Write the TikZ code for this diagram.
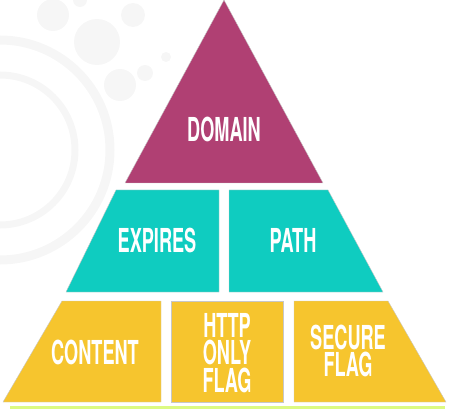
\documentclass[tikz,border=0pt]{standalone}
\usepackage{fontspec}
\newfontfamily\tierfont{TeX Gyre Heros}
\definecolor{domainpink}{HTML}{B04073}
\definecolor{midteal}{HTML}{0FCCC0}
\definecolor{baseyellow}{HTML}{F6C52E}
\definecolor{limebar}{HTML}{DCFA82}
\definecolor{markgray}{HTML}{F6F6F6}
\begin{document}
\begin{tikzpicture}[x=1pt,y=-1pt,
  tier/.style={draw=black!22,line width=.4pt},
  tierlabel/.style={text=white,inner sep=0pt,align=center,xscale=.55,
    font=\tierfont\bfseries\fontsize{33}{27.5}\selectfont}]
\useasboundingbox (0,0) rectangle (450,409);
% faint watermark in the corner
\draw[markgray,line width=9pt] (0,150) circle (110);
\draw[markgray,line width=7pt] (0,150) circle (75);
\fill[markgray] (53,15) circle (16);
\fill[markgray] (97,42) circle (23);
\fill[markgray] (133,15) circle (12);
\fill[markgray] (120,85) circle (16);
\fill[markgray] (145,73) circle (8);
\fill[markgray] (166,57) circle (5);
\fill[markgray] (80,0) circle (7);
% top
\path[tier,fill=domainpink] (224,0) -- (323,183) -- (125,183) -- cycle;
\node[tierlabel] (domain) at (224,129) {DOMAIN};
% middle
\path[tier,fill=midteal] (116,190) -- (219,190) -- (219,292) -- (66,292) -- cycle;
\path[tier,fill=midteal] (229,190) -- (328,190) -- (383,292) -- (229,292) -- cycle;
\node[tierlabel] (expires) at (157,240) {EXPIRES};
\node[tierlabel] (path) at (293,240) {PATH};
% bottom
\path[tier,fill=baseyellow] (62,301) -- (161,301) -- (161,402) -- (3,402) -- cycle;
\path[tier,fill=baseyellow] (171,301) -- (283,301) -- (283,402) -- (171,402) -- cycle;
\path[tier,fill=baseyellow] (294,301) -- (388,301) -- (446,402) -- (294,402) -- cycle;
\node[tierlabel] (content) at (95,352) {CONTENT};
\node[tierlabel] (httponly) at (227,353) {HTTP\\ONLY\\FLAG};
\node[tierlabel] (secure) at (348,351) {SECURE\\FLAG};
% bar under the pyramid
\fill[limebar] (10,406) rectangle (445,409);
\end{tikzpicture}
\end{document}
